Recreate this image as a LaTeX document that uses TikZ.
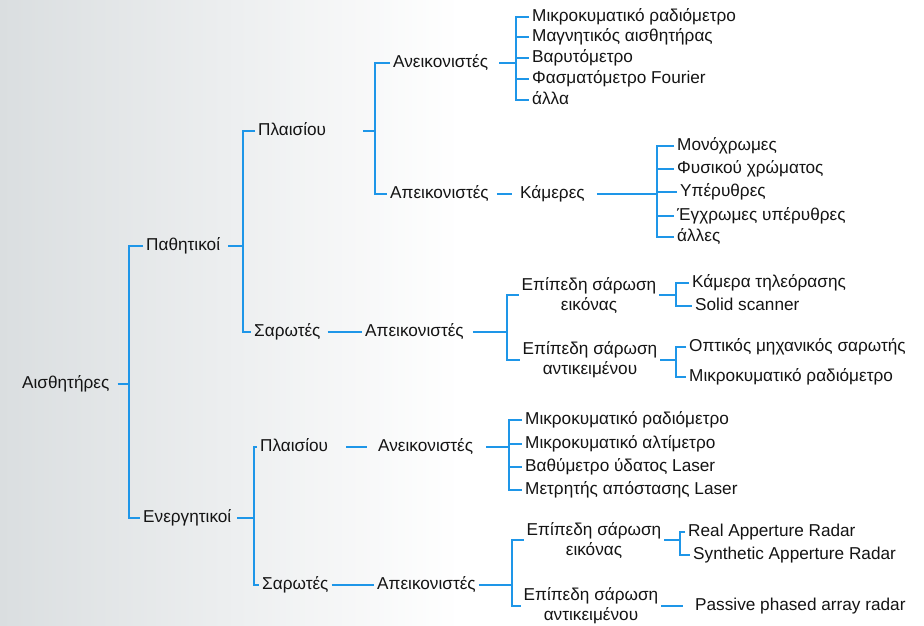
\documentclass[tikz,border=0pt]{standalone}
\usepackage{fontspec}
\setmainfont{Liberation Sans}
\definecolor{lnblue}{RGB}{30,150,232}
\definecolor{txt}{RGB}{20,20,20}
\definecolor{bgl}{RGB}{218,222,224}
\newcommand\mybrk[3]{\draw[ln] (#2.west) -- (#2.west -| #1) -- (#3.west -| #1) -- (#3.west);}
\newcommand\mystub[2]{\draw[ln] (#2.west -| #1) -- (#2.west);}
\begin{document}
\begin{tikzpicture}[x=1pt,y=-1pt,
  ln/.style={draw=lnblue,line width=1.8pt},
  t/.style={anchor=west,inner xsep=3pt,inner ysep=0pt,text height=12.5pt,text depth=4pt,text=txt,font=\fontsize{17.2}{20}\selectfont},
  m/.style={anchor=center,align=center,inner xsep=3pt,inner ysep=0pt,text=txt,font=\fontsize{17.2}{20}\selectfont}]
\useasboundingbox (0,0) rectangle (924,625);
\fill[white] (0,0) rectangle (924,625);
\shade[left color=bgl,right color=white] (0,0) rectangle (460,625);
% spines
\coordinate (sA) at (129,0);
\coordinate (sB) at (243,0);
\coordinate (sC) at (375,0);
\coordinate (sD) at (516,0);
\coordinate (sE) at (657,0);
\coordinate (sF) at (507,0);
\coordinate (sG) at (676,0);
\coordinate (sH) at (254,0);
\coordinate (sI) at (509,0);
\coordinate (sJ) at (512,0);
\coordinate (sK) at (680,0);
% nodes
\node[t] (root) at (19,384) {Αισθητήρες};
\node[t] (pa) at (143,246) {Παθητικοί};
\node[t] (en) at (140,518) {Ενεργητικοί};
\node[t] (pl1) at (255,131) {Πλαισίου};
\node[t] (sa1) at (251,332) {Σαρωτές};
\node[t] (an1) at (390,63) {Ανεικονιστές};
\node[t] (ap1) at (387,194) {Απεικονιστές};
\node[t] (i1a) at (529,17) {Μικροκυματικό ραδιόμετρο};
\node[t] (i1b) at (529,37) {Μαγνητικός αισθητήρας};
\node[t] (i1c) at (529,58) {Βαρυτόμετρο};
\node[t] (i1d) at (529,79) {Φασματόμετρο Fourier};
\node[t] (i1e) at (529,100) {άλλα};
\node[t] (cam) at (517,194) {Κάμερες};
\node[t] (c1) at (674,146) {Μονόχρωμες};
\node[t] (c2) at (674,169) {Φυσικού χρώματος};
\node[t] (c3) at (677,192) {Υπέρυθρες};
\node[t] (c4) at (674,216) {Έγχρωμες υπέρυθρες};
\node[t] (c5) at (674,237) {άλλες};
\node[t] (ap2) at (362,332) {Απεικονιστές};
\node[m] (ep1) at (589,295) {Επίπεδη σάρωση\\εικόνας};
\node[m] (ep2) at (590,360) {Επίπεδη σάρωση\\αντικειμένου};
\node[t] (tv) at (689,283) {Κάμερα τηλεόρασης};
\node[t] (sol) at (692,306) {Solid scanner};
\node[t] (opt) at (686,347) {Οπτικός μηχανικός σαρωτής};
\node[t] (mic) at (686,377) {Μικροκυματικό ραδιόμετρο};
\node[t] (pl2) at (257,447) {Πλαισίου};
\node[t] (sa2) at (259,585) {Σαρωτές};
\node[t] (an2) at (375,447) {Ανεικονιστές};
\node[t] (j1) at (522,420) {Μικροκυματικό ραδιόμετρο};
\node[t] (j2) at (522,444) {Μικροκυματικό αλτίμετρο};
\node[t] (j3) at (522,467) {Βαθύμετρο ύδατος Laser};
\node[t] (j4) at (522,490) {Μετρητής απόστασης Laser};
\node[t] (ap3) at (374,585) {Απεικονιστές};
\node[m] (ep3) at (594,540) {Επίπεδη σάρωση\\εικόνας};
\node[m] (ep4) at (591,606) {Επίπεδη σάρωση\\αντικειμένου};
\node[t] (real) at (685,532) {Real Apperture Radar};
\node[t] (syn) at (690,555) {Synthetic Apperture Radar};
\node[t] (pas) at (692,606) {Passive phased array radar};
% connectors: root
\draw[ln,shorten <=5pt] (root.east) -- (root.east -| sA);
\mybrk{sA}{pa}{en}
% Παθητικοί
\draw[ln,shorten <=5pt] (pa.east) -- (pa.east -| sB);
\mybrk{sB}{pl1}{sa1}
\draw[ln,shorten <=34pt] (pl1.east) -- (pl1.east -| sC);
\mybrk{sC}{an1}{ap1}
\draw[ln,shorten <=8pt] (an1.east) -- (an1.east -| sD);
\mybrk{sD}{i1a}{i1e}
\mystub{sD}{i1b}
\mystub{sD}{i1c}
\mystub{sD}{i1d}
\draw[ln,shorten <=5pt,shorten >=5pt] (ap1.east) -- (cam.west);
\draw[ln,shorten <=9pt] (cam.east) -- (cam.east -| sE);
\mybrk{sE}{c1}{c5}
\mystub{sE}{c2}
\mystub{sE}{c3}
\mystub{sE}{c4}
\draw[ln,shorten <=4pt] (sa1.east) -- (ap2.west);
\draw[ln,shorten <=6pt] (ap2.east) -- (ap2.east -| sF);
\mybrk{sF}{ep1}{ep2}
\draw[ln] (ep1.east) -- (ep1.east -| sG);
\mybrk{sG}{tv}{sol}
\draw[ln] (ep2.east) -- (ep2.east -| sG);
\mybrk{sG}{opt}{mic}
% Ενεργητικοί
\draw[ln,shorten <=3pt] (en.east) -- (en.east -| sH);
\mybrk{sH}{pl2}{sa2}
\draw[ln,shorten <=15pt,shorten >=8pt] (pl2.east) -- (an2.west);
\draw[ln,shorten <=10pt] (an2.east) -- (an2.east -| sI);
\mybrk{sI}{j1}{j4}
\mystub{sI}{j2}
\mystub{sI}{j3}
\draw[ln] (sa2.east) -- (ap3.west);
\draw[ln] (ap3.east) -- (ap3.east -| sJ);
\mybrk{sJ}{ep3}{ep4}
\draw[ln] (ep3.east) -- (ep3.east -| sK);
\mybrk{sK}{real}{syn}
\draw[ln,shorten >=9pt] (ep4.east) -- (pas.west);
\end{tikzpicture}
\end{document}
